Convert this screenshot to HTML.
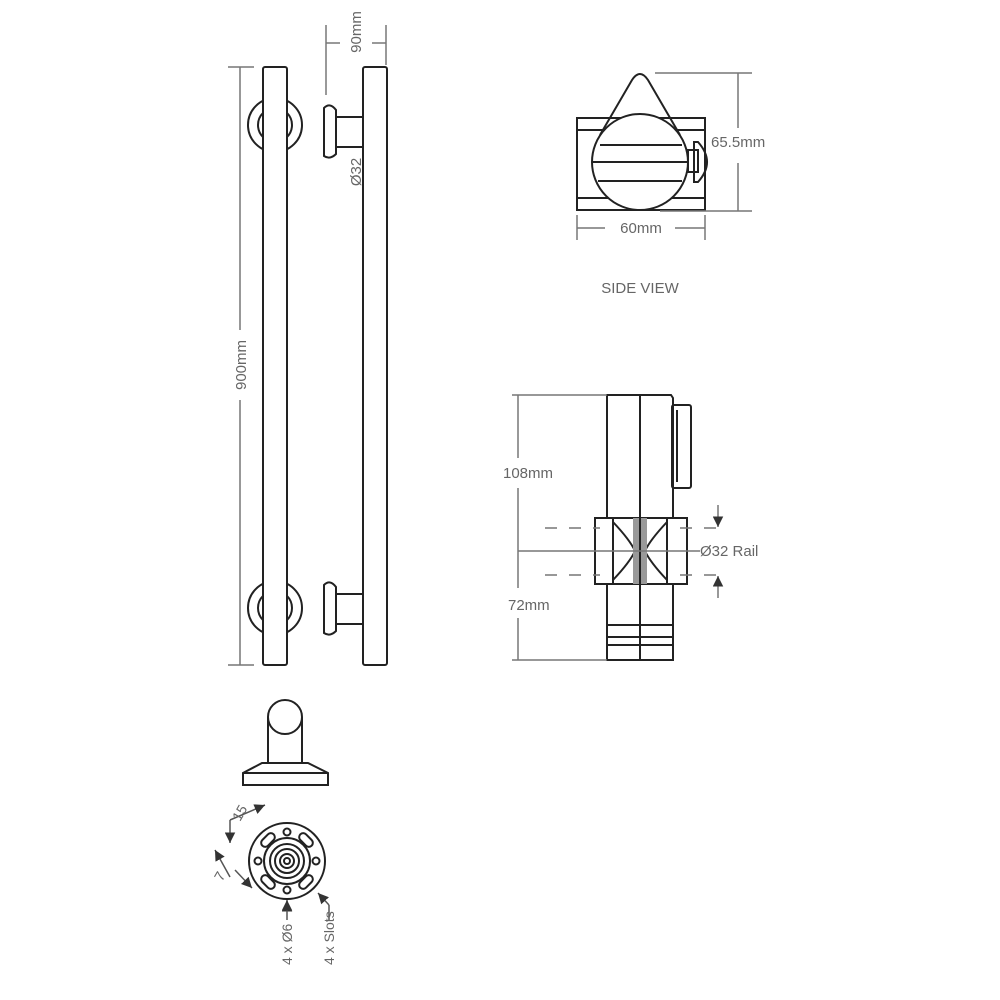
<!DOCTYPE html>
<html><head><style>html,body{margin:0;padding:0;background:#fff}svg{display:block}</style></head>
<body>
<svg width="1000" height="1000" viewBox="0 0 1000 1000" xmlns="http://www.w3.org/2000/svg" font-family="Liberation Sans, sans-serif">
<defs>
<marker id="ar" viewBox="0 0 10 10" refX="10" refY="5" markerWidth="7" markerHeight="7" orient="auto"><path d="M0,0 L10,5 L0,10 z" fill="#333"/></marker>
</defs>
<g fill="none" stroke="#222" stroke-width="2">
<!-- left rail flanges -->
<circle cx="275" cy="125" r="27"/><circle cx="275" cy="125" r="17"/>
<circle cx="275" cy="608" r="27"/><circle cx="275" cy="608" r="17"/>
<rect x="263" y="67" width="24" height="598" rx="2" fill="#fff"/>
<!-- right rail -->
<rect x="363" y="67" width="24" height="598" rx="2"/>
<rect x="336" y="117" width="27" height="30"/>
<path d="M336,110 L336,154 Q330,160 324,156 L324,108 Q330,102 336,110Z"/>
<rect x="336" y="594" width="27" height="30"/>
<path d="M336,587 L336,631 Q330,637 324,633 L324,585 Q330,579 336,587Z"/>
</g>
<g stroke="#777" stroke-width="1.5" fill="none">
<line x1="240" y1="67" x2="240" y2="330"/><line x1="240" y1="400" x2="240" y2="665"/>
<line x1="228" y1="67" x2="254" y2="67"/><line x1="228" y1="665" x2="254" y2="665"/>
<line x1="326" y1="25" x2="326" y2="95"/><line x1="386" y1="25" x2="386" y2="65"/>
<line x1="326" y1="43" x2="340" y2="43"/><line x1="372" y1="43" x2="386" y2="43"/>
</g>
<g fill="#666" font-size="15">
<text transform="translate(246,365) rotate(-90)" text-anchor="middle">900mm</text>
<text transform="translate(361,32) rotate(-90)" text-anchor="middle">90mm</text>
<text transform="translate(361,172) rotate(-90)" text-anchor="middle">Ø32</text>
</g>
<!-- side view -->
<g fill="none" stroke="#222" stroke-width="2">
<rect x="577" y="118" width="128" height="92"/>
<line x1="577" y1="130" x2="705" y2="130"/><line x1="577" y1="198" x2="705" y2="198"/>
<circle cx="640" cy="162" r="48" fill="#fff"/>
<line x1="600" y1="145" x2="682" y2="145"/><line x1="592" y1="162" x2="688" y2="162"/><line x1="598" y1="181" x2="682" y2="181"/>
<path d="M600,135 L632,80 Q640,68 648,80 L680,135"/>
<rect x="688" y="150" width="10" height="22"/>
<path d="M698,142 Q716,162 698,182 L694,182 L694,142Z"/>
</g>
<g stroke="#777" stroke-width="1.5" fill="none">
<line x1="655" y1="73" x2="752" y2="73"/><line x1="660" y1="211" x2="752" y2="211"/>
<line x1="738" y1="73" x2="738" y2="128"/><line x1="738" y1="163" x2="738" y2="211"/>
<line x1="577" y1="215" x2="577" y2="240"/><line x1="705" y1="215" x2="705" y2="240"/>
<line x1="577" y1="228" x2="605" y2="228"/><line x1="675" y1="228" x2="705" y2="228"/>
</g>
<g fill="#666" font-size="15">
<text x="711" y="147">65.5mm</text>
<text x="641" y="233" text-anchor="middle">60mm</text>
<text x="640" y="293" text-anchor="middle">SIDE VIEW</text>
</g>
<!-- bracket front -->
<g fill="none" stroke="#222" stroke-width="2">
<path d="M607,395 L671,395 L673,398 L673,625 L607,625Z"/>
<line x1="640" y1="395" x2="640" y2="660"/>
<rect x="607" y="625" width="66" height="35"/>
<line x1="607" y1="637" x2="673" y2="637"/><line x1="607" y1="645" x2="673" y2="645"/>
<rect x="672" y="405" width="19" height="83" rx="2"/><line x1="677" y1="410" x2="677" y2="482"/>
<rect x="595" y="518" width="92" height="66" fill="#fff"/>
<rect x="613" y="518" width="54" height="66"/>
<path d="M613,522 Q630,540 635,551 Q630,562 613,580"/>
<path d="M667,522 Q650,540 645,551 Q650,562 667,580"/>
<rect x="633" y="518" width="14" height="66" fill="#999" stroke="none"/>
<line x1="640" y1="518" x2="640" y2="584"/>
</g>
<g stroke="#777" stroke-width="1.5" fill="none">
<line x1="518" y1="395" x2="518" y2="458"/><line x1="518" y1="488" x2="518" y2="588"/><line x1="518" y1="618" x2="518" y2="660"/>
<line x1="512" y1="395" x2="607" y2="395"/><line x1="512" y1="660" x2="607" y2="660"/>
<line x1="518" y1="551" x2="700" y2="551"/>
<line x1="545" y1="528" x2="600" y2="528" stroke-dasharray="12,12"/><line x1="680" y1="528" x2="720" y2="528" stroke-dasharray="12,12"/>
<line x1="545" y1="575" x2="600" y2="575" stroke-dasharray="12,12"/><line x1="680" y1="575" x2="720" y2="575" stroke-dasharray="12,12"/>
<line x1="718" y1="505" x2="718" y2="527" marker-end="url(#ar)"/>
<line x1="718" y1="598" x2="718" y2="576" marker-end="url(#ar)"/>
</g>
<g fill="#666" font-size="15">
<text x="503" y="478">108mm</text>
<text x="508" y="610">72mm</text>
<text x="700" y="556">Ø32 Rail</text>
</g>
<!-- fixing -->
<g fill="none" stroke="#222" stroke-width="2">
<rect x="268" y="718" width="34" height="45" fill="#fff"/>
<circle cx="285" cy="717" r="17" fill="#fff"/>
<path d="M262,763 L308,763 L328,773 L328,785 L243,785 L243,773 Z"/>
<line x1="243" y1="773" x2="328" y2="773"/>
<circle cx="287" cy="861" r="38"/>
<circle cx="287" cy="861" r="23"/>
<circle cx="287" cy="861" r="17"/><circle cx="287" cy="861" r="12"/><circle cx="287" cy="861" r="7"/><circle cx="287" cy="861" r="3"/>
<circle cx="287" cy="832" r="3.5"/><circle cx="287" cy="890" r="3.5"/><circle cx="258" cy="861" r="3.5"/><circle cx="316" cy="861" r="3.5"/>
<rect x="260" y="836" width="16" height="8" rx="4" transform="rotate(-45 268 840)"/>
<rect x="298" y="836" width="16" height="8" rx="4" transform="rotate(45 306 840)"/>
<rect x="260" y="878" width="16" height="8" rx="4" transform="rotate(45 268 882)"/>
<rect x="298" y="878" width="16" height="8" rx="4" transform="rotate(-45 306 882)"/>
</g>
<g stroke="#555" stroke-width="1.5" fill="none">
<line x1="287" y1="905" x2="287" y2="901" marker-end="url(#ar)"/>
<line x1="287" y1="920" x2="287" y2="900" marker-end="url(#ar)"/>
<line x1="329" y1="920" x2="329" y2="905"/><line x1="329" y1="905" x2="318" y2="893" marker-end="url(#ar)"/>
<line x1="230" y1="820" x2="265" y2="805" marker-end="url(#ar)"/>
<line x1="230" y1="820" x2="230" y2="843" marker-end="url(#ar)"/>
<line x1="230" y1="877" x2="215" y2="850" marker-end="url(#ar)"/>
<line x1="235" y1="870" x2="252" y2="888" marker-end="url(#ar)"/>
</g>
<g fill="#666" font-size="14">
<text transform="translate(292,965) rotate(-90)">4 x Ø6</text>
<text transform="translate(334,965) rotate(-90)">4 x Slots</text>
<text transform="translate(240,822) rotate(-60)">15</text>
<text transform="translate(222,882) rotate(-60)">7</text>
</g>
</svg>
</body></html>
